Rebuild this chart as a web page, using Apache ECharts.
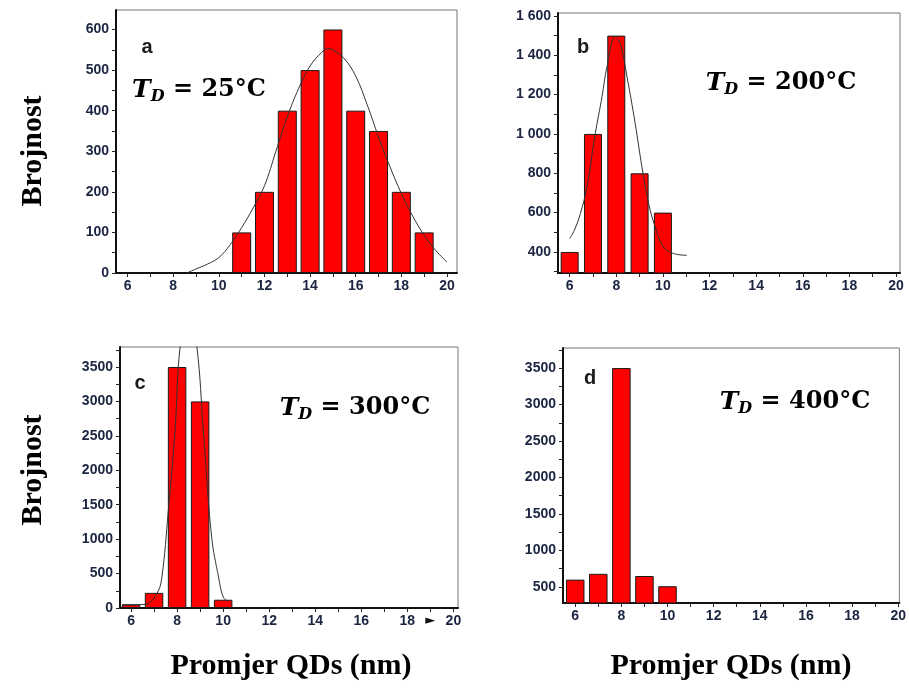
<!DOCTYPE html>
<html>
<head>
<meta charset="utf-8">
<script src="https://cdn.jsdelivr.net/npm/echarts@6/dist/echarts.min.js"></script>
<style>html,body{margin:0;padding:0;background:#fff;}#chart{width:909px;height:689px;}</style>
</head>
<body>
<div id="chart"></div>
<script>
// ---------- data ----------
const xLabelTicks = [6, 8, 10, 12, 14, 16, 18, 20];
const xMinorTicks = [6, 7, 8, 9, 10, 11, 12, 13, 14, 15, 16, 17, 18, 19, 20];

// panel a (T_D = 25 °C)
const aSizes  = [11, 12, 13, 14, 15, 16, 17, 18, 19];
const aCounts = [100, 200, 400, 500, 600, 400, 350, 200, 100];
const aFitX = [8.6, 9, 9.5, 10, 10.5, 11, 11.5, 12, 12.5, 13, 13.5, 14, 14.5, 14.8, 15, 15.5, 16, 16.5, 17, 17.5, 18, 18.5, 19, 19.5, 20];
const aFitY = [0, 10, 22, 38, 70, 112, 160, 215, 300, 385, 455, 510, 543, 553, 550, 528, 485, 415, 335, 262, 196, 140, 93, 56, 27];
const aYLabels = [0, 100, 200, 300, 400, 500, 600];
const aYTicks = [0, 50, 100, 150, 200, 250, 300, 350, 400, 450, 500, 550, 600];

// panel b (T_D = 200 °C)
const bSizes  = [6, 7, 8, 9, 10];
const bCounts = [400, 1000, 1500, 800, 600];
const bFitX = [6, 6.2, 6.46, 6.74, 7.1, 7.39, 7.6, 7.96, 8.17, 8.46, 8.81, 9.1, 9.39, 9.67, 10.03, 10.46, 11.03];
const bFitY = [468, 510, 595, 731, 1003, 1190, 1342, 1495, 1461, 1291, 1054, 833, 646, 527, 425, 392, 383];
const bYLabels = [400, 600, 800, 1000, 1200, 1400, 1600];
const bYTicks = [300, 400, 500, 600, 700, 800, 900, 1000, 1100, 1200, 1300, 1400, 1500, 1600];

// panel c (T_D = 300 °C)
const cSizes  = [6, 7, 8, 9, 10];
const cCounts = [50, 220, 3500, 3000, 120];
const cFitX = [5.6, 6.4, 6.7, 7.12, 7.33, 7.62, 7.91, 8.13, 8.5, 8.86, 9.14, 9.5, 9.8, 10.0, 10.2];
const cFitY = [50, 50, 60, 208, 426, 1418, 2580, 3790, 4400, 3790, 2580, 1031, 450, 160, 100];
const cYLabels = [0, 500, 1000, 1500, 2000, 2500, 3000, 3500];
const cYTicks = [0, 250, 500, 750, 1000, 1250, 1500, 1750, 2000, 2250, 2500, 2750, 3000, 3250, 3500, 3750];
const cXLabelTicks = [6, 8, 10, 12, 14, 16, 18, 19, 20];

// panel d (T_D = 400 °C)
const dSizes  = [6, 7, 8, 9, 10];
const dCounts = [600, 680, 3500, 650, 510];
const dYLabels = [500, 1000, 1500, 2000, 2500, 3000, 3500];
const dYTicks = [500, 750, 1000, 1250, 1500, 1750, 2000, 2250, 2500, 2750, 3000, 3250, 3500, 3750];

const panelLetters = ['a', 'b', 'c', 'd'];
const panelTemps = ['25°C', '200°C', '300°C', '400°C'];
const yAxisTitle = 'Brojnost';
const xAxisTitle = 'Promjer QDs (nm)';

// ---------- layout ----------
const grids = [
  {left: 116, top: 10, width: 341, height: 263},
  {left: 558, top: 13, width: 342, height: 260},
  {left: 120, top: 347, width: 338, height: 261},
  {left: 563, top: 348, width: 338, height: 255}
];
const xRanges = [[5.49, 20.44], [5.5, 20.17], [5.52, 20.2], [5.47, 20.05]];
const yRanges = [[0, 648], [293, 1615], [0, 3790], [280, 3775]];
const barWidths = [19, 18, 18.5, 18.5];
const spacedThousands = [false, true, false, false];
const letterPos = [[147, 47], [583, 47], [140, 383], [590, 378]];
const tempPos = [[199, 90], [781, 83], [355, 408], [795, 402]];

function zip(xs, ys) { return xs.map((x, i) => [x, ys[i]]); }
function fmtThousands(v) {
  const s = String(v);
  return s.length > 3 ? s.slice(0, s.length - 3) + ' ' + s.slice(-3) : s;
}

const labelColor = '#1b2440';
const tickFont = {color: labelColor, fontFamily: 'Liberation Sans', fontWeight: 'bold', fontSize: 14};

const barSets = [[aSizes, aCounts], [bSizes, bCounts], [cSizes, cCounts], [dSizes, dCounts]];
const fitSets = [[aFitX, aFitY], [bFitX, bFitY], [cFitX, cFitY], null];
const yLabelSets = [aYLabels, bYLabels, cYLabels, dYLabels];
const yTickSets = [aYTicks, bYTicks, cYTicks, dYTicks];

const xAxes = [], yAxes = [], series = [];
for (let i = 0; i < 4; i++) {
  xAxes.push({
    type: 'value', gridIndex: i, min: xRanges[i][0], max: xRanges[i][1],
    axisLine: {show: true, onZero: false, lineStyle: {color: '#111', width: 2}},
    axisTick: {show: true, inside: false, length: 4, customValues: xMinorTicks, lineStyle: {color: '#222', width: 1}},
    axisLabel: Object.assign({margin: 6, customValues: i === 2 ? cXLabelTicks : xLabelTicks,
      formatter: v => (i === 2 && v === 19) ? '{s|►}' : String(v),
      rich: {s: {fontSize: 13, color: '#111', fontFamily: 'DejaVu Sans'}}}, tickFont),
    splitLine: {show: false}
  });
  yAxes.push({
    type: 'value', gridIndex: i, min: yRanges[i][0], max: yRanges[i][1],
    axisLine: {show: true, onZero: false, lineStyle: {color: '#111', width: 2}},
    axisTick: {show: true, inside: false, length: 4, customValues: yTickSets[i], lineStyle: {color: '#222', width: 1}},
    axisLabel: Object.assign({margin: 7, customValues: yLabelSets[i],
      formatter: v => spacedThousands[i] ? fmtThousands(v) : String(v)}, tickFont),
    splitLine: {show: false}
  });
  series.push({
    type: 'bar', xAxisIndex: i, yAxisIndex: i, clip: true,
    barWidth: barWidths[i],
    data: zip(barSets[i][0], barSets[i][1]),
    itemStyle: {color: '#ff0000', borderColor: '#1a1a1a', borderWidth: 1},
    silent: true, animation: false
  });
  if (fitSets[i]) {
    series.push({
      type: 'line', xAxisIndex: i, yAxisIndex: i, clip: true, smooth: 0.4,
      showSymbol: false, symbol: 'none',
      data: zip(fitSets[i][0], fitSets[i][1]),
      lineStyle: {color: '#333', width: 1},
      silent: true, animation: false, z: 5
    });
  }
}

const graphics = [];
for (let i = 0; i < 4; i++) {
  graphics.push({
    type: 'text', x: letterPos[i][0], y: letterPos[i][1], z: 10,
    style: {text: panelLetters[i], fill: '#1a1a1a', font: 'bold 20px "Liberation Sans"',
      textAlign: 'center', textVerticalAlign: 'middle'}
  });
  graphics.push({
    type: 'text', x: tempPos[i][0], y: tempPos[i][1], z: 10,
    style: {
      text: '{t|T}{d|D}{n| = ' + panelTemps[i] + '}',
      textAlign: 'center', textVerticalAlign: 'middle',
      rich: {
        t: {font: 'italic bold 25px "DejaVu Serif"', fill: '#000'},
        d: {font: 'italic bold 16px "DejaVu Serif"', fill: '#000', padding: [14, 0, 0, 0]},
        n: {font: 'bold 24px "DejaVu Serif"', fill: '#000'}
      }
    }
  });
}
[[33, 151], [33, 470]].forEach(p => graphics.push({
  type: 'text', x: p[0], y: p[1], rotation: Math.PI / 2,
  style: {text: yAxisTitle, font: 'bold 30px "Liberation Serif"', fill: '#000', textAlign: 'center', textVerticalAlign: 'middle'}
}));
[[291, 666], [731, 666]].forEach(p => graphics.push({
  type: 'text', x: p[0], y: p[1],
  style: {text: xAxisTitle, font: 'bold 30px "Liberation Serif"', fill: '#000', textAlign: 'center', textVerticalAlign: 'middle'}
}));

const chart = echarts.init(document.getElementById('chart'), null, {renderer: 'canvas'});
chart.setOption({
  animation: false,
  backgroundColor: '#fff',
  grid: grids.map(g => Object.assign({show: true, borderColor: '#777', borderWidth: 1, backgroundColor: '#fff', containLabel: false}, g)),
  xAxis: xAxes,
  yAxis: yAxes,
  series: series,
  graphic: graphics
});
</script>
</body>
</html>
